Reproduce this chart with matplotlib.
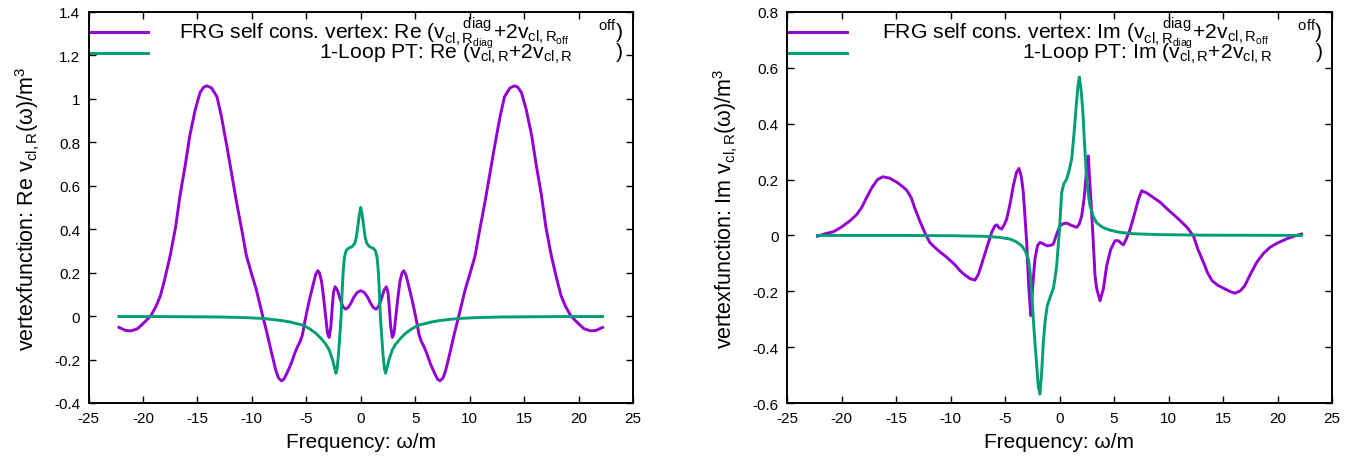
import numpy as np
from matplotlib import pyplot as plt
import matplotlib as mpl
from matplotlib.ticker import MultipleLocator, FuncFormatter

mpl.rcParams["font.family"] = ["Liberation Sans", "DejaVu Sans"]
mpl.rcParams["mathtext.fontset"] = "custom"
mpl.rcParams["mathtext.rm"] = "Liberation Sans"
mpl.rcParams["mathtext.it"] = "Liberation Sans:italic"
mpl.rcParams["axes.unicode_minus"] = False

purple = "#9400d3"
green = "#009e73"

# Re part: FRG self consistent vertex
re_frg_w = [-22.2, -21.6, -21.1, -20.5, -20.0, -19.3, -18.8, -18.4, -18.0, -17.5, -17.0, -16.6,
            -16.1, -15.7, -15.2, -14.75, -14.4, -14.1, -13.7, -13.2, -12.8, -12.3, -11.8, -11.4,
            -10.9, -10.5, -10.0, -9.6, -9.0, -8.6, -8.2, -7.8, -7.55, -7.28, -7.05, -6.8, -6.4,
            -6.05, -5.8, -5.55, -5.35, -5.15, -4.95, -4.7, -4.4, -4.15, -3.95, -3.8, -3.6, -3.4,
            -3.2, -3.05, -2.9, -2.75, -2.62, -2.5, -2.35, -2.15, -1.9, -1.65, -1.4, -1.15, -0.9,
            -0.6, -0.3, 0.0,
            0.3, 0.6, 0.9, 1.15, 1.4, 1.65, 1.9, 2.15, 2.35, 2.5, 2.62, 2.75, 2.9, 3.05, 3.2,
            3.4, 3.6, 3.8, 3.95, 4.15, 4.4, 4.7, 4.95, 5.15, 5.35, 5.55, 5.8, 6.05, 6.4, 6.8,
            7.05, 7.28, 7.55, 7.8, 8.2, 8.6, 9.0, 9.6, 10.0, 10.5, 10.9, 11.4, 11.8, 12.3, 12.8,
            13.2, 13.7, 14.1, 14.4, 14.75, 15.2, 15.7, 16.1, 16.6, 17.0, 17.5, 18.0, 18.4, 18.8,
            19.3, 20.0, 20.5, 21.1, 21.6, 22.2]
re_frg = [-0.052, -0.066, -0.068, -0.058, -0.035, 0.0, 0.045, 0.093, 0.17, 0.278, 0.41, 0.554,
          0.70, 0.83, 0.95, 1.03, 1.055, 1.06, 1.05, 1.01, 0.92, 0.784, 0.64, 0.523,
          0.39, 0.278, 0.19, 0.124, 0.0, -0.08, -0.167, -0.25, -0.285, -0.298, -0.29, -0.265, -0.22,
          -0.17, -0.14, -0.115, -0.085, -0.03, 0.02, 0.078, 0.14, 0.19, 0.209, 0.2, 0.16, 0.08,
          -0.01, -0.08, -0.098, -0.05, 0.04, 0.11, 0.135, 0.12, 0.08, 0.045, 0.032, 0.04, 0.06,
          0.09, 0.11, 0.117,
          0.11, 0.09, 0.06, 0.04, 0.032, 0.045, 0.08, 0.12, 0.135, 0.11, 0.04, -0.05, -0.098, -0.08, -0.01,
          0.08, 0.16, 0.2, 0.209, 0.19, 0.14, 0.078, 0.02, -0.03, -0.085, -0.115, -0.14, -0.17, -0.22, -0.265,
          -0.29, -0.298, -0.285, -0.25, -0.167, -0.08, 0.0, 0.124, 0.19, 0.278, 0.39, 0.523, 0.64, 0.784, 0.92,
          1.01, 1.05, 1.06, 1.055, 1.03, 0.95, 0.83, 0.70, 0.554, 0.41, 0.278, 0.17, 0.093, 0.045,
          0.0, -0.035, -0.058, -0.068, -0.066, -0.052]

# Re part: 1-loop PT
re_pt_w = [-22.2, -19.0, -16.0, -13.0, -10.5, -9.0, -8.2, -7.2, -6.5, -5.3, -4.7, -4.1, -3.6, -3.2,
           -2.9, -2.6, -2.42, -2.28, -2.17, -2.05, -1.92, -1.8, -1.72, -1.62, -1.5, -1.35, -1.2,
           -1.0, -0.75, -0.55, -0.4, -0.25, -0.12, 0.0,
           0.12, 0.25, 0.4, 0.55, 0.75, 1.0, 1.2, 1.35, 1.5, 1.62, 1.72, 1.8, 1.92, 2.05, 2.17,
           2.28, 2.42, 2.6, 2.9, 3.2, 3.6, 4.1, 4.7, 5.3, 6.5, 7.2, 8.2, 9.0, 10.5, 13.0, 16.0,
           19.0, 22.2]
re_pt = [-0.002, -0.002, -0.003, -0.004, -0.007, -0.011, -0.015, -0.021, -0.027, -0.042, -0.058,
         -0.08, -0.105, -0.13, -0.155, -0.2, -0.235, -0.263, -0.24, -0.18, -0.09, 0.0, 0.1, 0.2,
         0.27, 0.30, 0.31, 0.315, 0.322, 0.335, 0.365, 0.42, 0.47, 0.50,
         0.47, 0.42, 0.365, 0.335, 0.322, 0.315, 0.31, 0.30, 0.27, 0.2, 0.1, 0.0, -0.09, -0.18,
         -0.24, -0.263, -0.235, -0.2, -0.155, -0.13, -0.105, -0.08, -0.058, -0.042, -0.027,
         -0.021, -0.015, -0.011, -0.007, -0.004, -0.003, -0.002, -0.002]

# Im part: FRG self consistent vertex
im_frg_w = [-22.2, -21.5, -20.75, -20.0, -19.2, -18.6, -18.15, -17.7, -17.2, -16.7, -16.2, -15.6,
            -14.9, -14.4, -14.0, -13.6, -13.3, -12.8, -12.3, -11.9, -11.6, -11.0, -10.35, -9.6,
            -9.13, -8.8, -8.2, -7.75, -7.45, -7.2, -6.99, -6.6, -6.22, -5.95, -5.76, -5.5, -5.3,
            -5.05, -4.84, -4.5, -4.24, -3.95, -3.72, -3.5, -3.32, -3.17, -3.01, -2.83, -2.64,
            -2.46, -2.25, -2.02, -1.79, -1.5, -1.18, -0.85, -0.57, -0.3, 0.05, 0.35, 0.66, 1.1,
            1.58, 1.8, 2.04, 2.25, 2.45, 2.64, 2.8, 2.95, 3.1, 3.26, 3.41, 3.72, 4.03, 4.33, 4.7,
            5.09, 5.4, 5.85, 6.1, 6.47, 6.9, 7.25, 7.54, 8.0, 8.6, 9.2, 10.07, 10.4, 11.1, 11.7,
            12.3, 12.7, 13.2, 13.6, 14.0, 14.5, 15.1, 15.6, 16.1, 16.6, 17.0, 17.5, 18.1, 18.7,
            19.3, 20.0, 20.8, 21.5, 22.2]
im_frg = [-0.003, 0.006, 0.013, 0.03, 0.053, 0.075, 0.10, 0.135, 0.172, 0.2, 0.21, 0.205,
          0.19, 0.175, 0.161, 0.135, 0.10, 0.05, 0.005, -0.025, -0.037, -0.058, -0.078, -0.105,
          -0.126, -0.138, -0.155, -0.16, -0.14, -0.11, -0.084, -0.035, 0.011, 0.033, 0.038, 0.026, 0.023,
          0.04, 0.059, 0.12, 0.178, 0.225, 0.24, 0.21, 0.154, 0.07, -0.025, -0.18, -0.287,
          -0.18, -0.084, -0.037, -0.025, -0.03, -0.037, -0.036, -0.031, 0.0, 0.035, 0.042, 0.044, 0.036,
          0.029, 0.04, 0.07, 0.13, 0.22, 0.285, 0.178, 0.083, -0.025, -0.144, -0.19, -0.234, -0.19, -0.108, -0.05,
          -0.019, -0.019, -0.034, -0.015, 0.021, 0.08, 0.13, 0.16, 0.152, 0.136, 0.12, 0.088, 0.077, 0.052, 0.029,
          -0.003, -0.05, -0.096, -0.135, -0.162, -0.178, -0.19, -0.2, -0.207, -0.198, -0.18, -0.14, -0.096, -0.065,
          -0.043, -0.027, -0.013, -0.003, 0.005]

# Im part: 1-loop PT
im_pt_w = [-22.2, -15.0, -10.0, -7.0, -5.5, -4.54, -4.0, -3.47, -3.15, -2.86, -2.7, -2.55, -2.4,
           -2.25, -2.1, -1.95, -1.8, -1.65, -1.49, -1.3, -1.12, -0.85, -0.57, -0.4, -0.26, -0.02,
           0.2, 0.4, 0.66, 0.9, 1.12, 1.3, 1.51, 1.68, 1.82, 1.98, 2.13, 2.28, 2.43, 2.6, 2.8,
           3.1, 3.41, 4.0, 4.63, 5.5, 6.77, 9.0, 13.0, 22.2]
im_pt = [0.0, 0.0, -0.001, -0.003, -0.007, -0.013, -0.022, -0.037, -0.055, -0.084, -0.13, -0.204, -0.3,
         -0.386, -0.46, -0.54, -0.568, -0.5, -0.386, -0.3, -0.252, -0.22, -0.19, -0.15, -0.108, 0.011,
         0.154, 0.185, 0.202, 0.235, 0.274, 0.35, 0.452, 0.53, 0.567, 0.52, 0.452, 0.34, 0.238, 0.16, 0.106,
         0.068, 0.045, 0.028, 0.019, 0.011, 0.006, 0.003, 0.001, 0.0]

sub = r"$_{\mathrm{cl,R}}$"
key_frg = (r"(v$_{\mathrm{cl,R}_{\mathrm{diag}}}^{\hspace{1.5}\mathrm{diag}}$"
           r"+2v$_{\mathrm{cl,R}_{\mathrm{off}}}\hspace{1.7}^{\mathrm{off}}$)")
key_pt = "(v" + sub + "+2v" + sub + r"$\hspace{2.5}$)"
lab_re = ["FRG self cons. vertex: Re " + key_frg, "1-Loop PT: Re " + key_pt]
lab_im = ["FRG self cons. vertex: Im " + key_frg, "1-Loop PT: Im " + key_pt]

fig = plt.figure(figsize=(13.65, 4.6), dpi=100)
ax1 = fig.add_axes([88.5 / 1365, 56 / 460, 544.5 / 1365, 391 / 460])
ax2 = fig.add_axes([787 / 1365, 56 / 460, 545 / 1365, 391 / 460])

fmt = FuncFormatter(lambda v, p: "%g" % round(v, 6))

panels = [
    (ax1, re_frg_w, re_frg, re_pt_w, re_pt, lab_re, (-0.4, 1.4), "Re"),
    (ax2, im_frg_w, im_frg, im_pt_w, im_pt, lab_im, (-0.6, 0.8), "Im"),
]

for ax, w1, y1, w2, y2, labs, ylim, part in panels:
    ax.plot(w1, y1, color=purple, lw=2.1)
    ax.plot(w2, y2, color=green, lw=2.1)
    ax.set_xlim(-25, 25)
    ax.set_ylim(*ylim)
    ax.xaxis.set_major_locator(MultipleLocator(5))
    ax.yaxis.set_major_locator(MultipleLocator(0.2))
    ax.xaxis.set_major_formatter(fmt)
    ax.yaxis.set_major_formatter(fmt)
    ax.tick_params(direction="in", top=True, right=True, length=5, width=1,
                   labelsize=11, pad=6)
    for s in ax.spines.values():
        s.set_linewidth(1.4)
    ax.set_xlabel("Frequency: ω/m", fontsize=15, labelpad=5)
    ax.set_ylabel("vertexfunction: " + part + " v" + sub + "(ω)/m$^3$",
                  fontsize=15.5, labelpad=9)

    # key
    for (yy, c, t) in [(0.949, purple, labs[0]), (0.895, green, labs[1])]:
        ax.plot([0.0, 0.11], [yy, yy], color=c, lw=2.1, transform=ax.transAxes,
                clip_on=False)
        ax.text(0.983, yy, t, transform=ax.transAxes, ha="right", va="center",
                fontsize=15.2)

plt.savefig("out.png", dpi=100)
